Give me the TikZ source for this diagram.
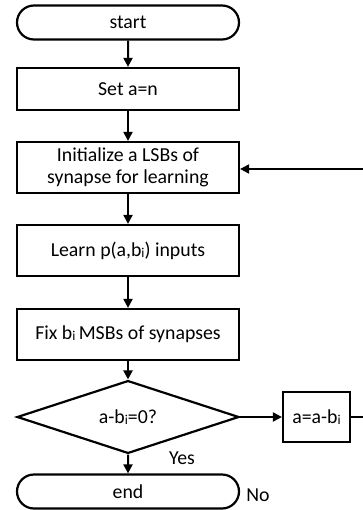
\documentclass[tikz,border=0pt]{standalone}
\usepackage{fontspec}
\setmainfont{Carlito}
\usetikzlibrary{arrows.meta}
\usetikzlibrary{shapes.geometric,shapes.misc}

\newcommand{\idx}{\raisebox{-1pt}{\fontsize{13.5}{14}\selectfont i}}

\begin{document}
\begin{tikzpicture}[
    x=1pt,y=-1pt,
    every node/.style={font=\fontsize{19.8}{22}\selectfont,inner sep=0pt},
    procbox/.style={rectangle,draw,line width=2.2pt,minimum width=222pt,minimum height=42pt,align=center},
    termbox/.style={rounded rectangle,draw,line width=2.2pt,minimum width=222pt,minimum height=34pt},
    decbox/.style={diamond,draw,line width=2.2pt,minimum width=222pt,minimum height=50pt},
    flow/.style={line width=2pt,-{Triangle[length=9pt,width=9pt]}}
    ]
    \useasboundingbox (0,0) rectangle (363,510);
    % main column
    \node[termbox] (start) at (128,22.5) {start};
    \node[procbox] (seta) at (128,89) {Set a=n};
    \node[procbox,minimum height=51pt] (init) at (128,167.5)
      {Initialize a LSBs of\\synapse for learning};
    \node[procbox,minimum height=51pt] (learn) at (128,250.5) {Learn p(a,b\idx) inputs};
    \node[procbox,minimum height=51pt] (fix) at (128,334.5) {Fix b\idx\,MSBs of synapses};
    \node[decbox] (dec) at (128,417) {a-b\idx=0?};
    \node[termbox] (stop) at (128,491.5) {end};
    % side branch
    \node[procbox,minimum width=67pt,minimum height=50pt] (upd) at (316.5,417) {a=a-b\idx};
    \coordinate (outr) at (363,417);
    \coordinate (backr) at (363,169);
    \node (yes) at (182,458) {Yes};
    \node (no) at (258,495) {No};
    % connectors
    \draw[flow] (start) -- (seta);
    \draw[flow] (seta) -- (init);
    \draw[flow] (init) -- (learn);
    \draw[flow] (learn) -- (fix);
    \draw[flow] (fix) -- (dec);
    \draw[flow] (dec) -- (stop);
    \draw[flow] (dec) -- (upd);
    \draw[line width=2pt] (upd) -- (outr);
    \draw[flow] (backr) -- (init.east |- backr);
\end{tikzpicture}
\end{document}
